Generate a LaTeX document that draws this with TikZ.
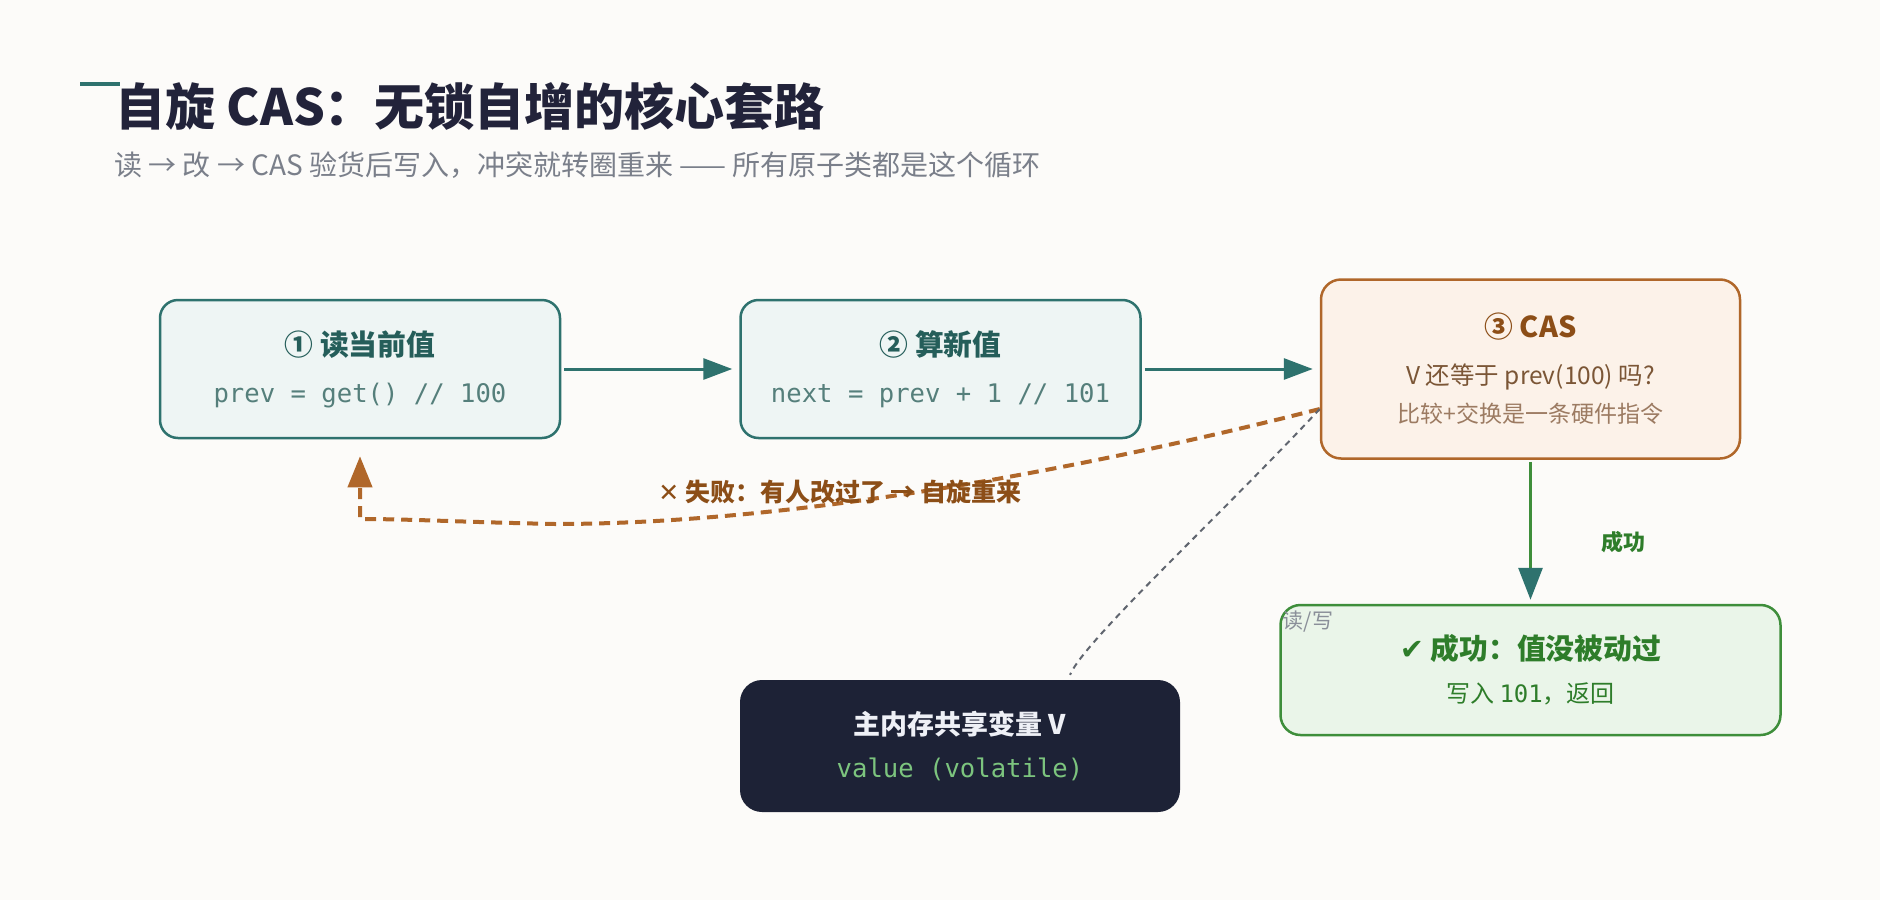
\documentclass[tikz,border=0pt]{standalone}
\usepackage{fontspec}
\usepackage{xcolor}
\usetikzlibrary{arrows.meta}
\usetikzlibrary{positioning}
\newfontfamily\cjk{Noto Sans CJK SC}
\newfontfamily\mono{DejaVu Sans Mono}
\newfontfamily\sym{DejaVu Sans}
\definecolor{PaperBg}{HTML}{FCFBF9}
\definecolor{Teal}{HTML}{2E726E}
\definecolor{TealPale}{HTML}{EEF5F4}
\definecolor{TealInk}{HTML}{255E5A}
\definecolor{TealCode}{HTML}{557F7B}
\definecolor{Rust}{HTML}{B0672A}
\definecolor{RustPale}{HTML}{FCF2E9}
\definecolor{RustInk}{HTML}{8C4E17}
\definecolor{RustText}{HTML}{7B5636}
\definecolor{RustSoft}{HTML}{9C7B62}
\definecolor{Leaf}{HTML}{3E8E3B}
\definecolor{LeafPale}{HTML}{EAF5E9}
\definecolor{LeafInk}{HTML}{2E7D2A}
\definecolor{Night}{HTML}{1D2236}
\definecolor{NightInk}{HTML}{EEF0F6}
\definecolor{NightCode}{HTML}{7CC47E}
\definecolor{HeadInk}{HTML}{22233A}
\definecolor{SubInk}{HTML}{7A7F8A}
\definecolor{BusGray}{HTML}{60656F}
\definecolor{NoteGray}{HTML}{8A8F99}
\tikzset{
  StepBox/.style={draw=Teal, fill=TealPale, line width=2.5pt, rounded corners=18pt,
    minimum width=400pt, minimum height=138pt, inner sep=0pt, align=center,
    text=TealInk, font=\cjk\fontsize{28.8}{47}\selectfont},
  CasBox/.style={draw=Rust, fill=RustPale, line width=2.5pt, rounded corners=20pt,
    minimum width=419pt, minimum height=179pt, inner sep=0pt, align=center,
    text=RustInk, font=\cjk\fontsize{28.8}{47}\selectfont},
  OkBox/.style={draw=Leaf, fill=LeafPale, line width=2.5pt, rounded corners=20pt,
    minimum width=500pt, minimum height=130pt, inner sep=0pt, align=center,
    text=LeafInk, font=\cjk\fontsize{28.8}{45}\selectfont},
  MemBox/.style={fill=Night, rounded corners=22pt,
    minimum width=440pt, minimum height=132pt, inner sep=0pt, align=center,
    text=NightInk, font=\cjk\fontsize{27}{45}\selectfont},
  Flow/.style={draw=Teal, line width=3pt, -{Triangle[length=29pt,width=21pt]}},
  FailFlow/.style={draw=Rust, line width=4pt, dash pattern=on 11pt off 7pt,
    -{Triangle[length=31pt,width=24pt]}},
  BusLine/.style={draw=BusGray, line width=2pt, dash pattern=on 6pt off 5pt},
}
\newcommand{\codeline}[1]{{\mono\fontsize{25.6}{47}\selectfont #1}}
\begin{document}
\begin{tikzpicture}[x=1pt, y=-1pt]
  \fill[PaperBg] (0,0) rectangle (1880,900);

  % heading
  \draw[Teal, line width=4pt] (80,84) -- (120,84);
  \node[anchor=west, inner sep=0pt, text=HeadInk,
    font=\cjk\bfseries\fontsize{50}{58}\selectfont] (Head) at (115,106)
    {自旋 CAS：无锁自增的核心套路};
  \node[anchor=west, inner sep=0pt, text=SubInk,
    font=\cjk\fontsize{28}{32}\selectfont] (Sub) at (114,165)
    {读 → 改 → CAS 验货后写入，冲突就转圈重来 —— 所有原子类都是这个循环};

  % the three steps
  \node[StepBox] (Read) at (360,369)
    {{\bfseries ① 读当前值}\\{\color{TealCode}\codeline{prev = get() // 100}}};
  \node[StepBox, right=178pt of Read] (Calc)
    {{\bfseries ② 算新值}\\{\color{TealCode}\codeline{next = prev + 1 // 101}}};
  \node[CasBox, right=178pt of Calc] (Cas)
    {{\bfseries ③ CAS}\\
     {\fontsize{24.5}{40}\selectfont\color{RustText}V 还等于 prev(100) 吗?}\\[-9pt]
     {\fontsize{23}{40}\selectfont\color{RustSoft}比较+交换是一条硬件指令}};
  \node[OkBox, below=144pt of Cas] (Ok)
    {{\bfseries{\sym ✔} 成功：值没被动过}\\[-2pt]
     {\fontsize{24}{40}\selectfont 写入 {\mono 101}，返回}};
  \node[MemBox] (Mem) at (960,746)
    {{\bfseries 主内存共享变量 V}\\[-2pt]{\color{NightCode}\codeline{value (volatile)}}};

  % connectors
  \draw[Flow, shorten <=3pt, shorten >=7pt] (Read) -- (Calc);
  \draw[Flow, shorten <=3pt, shorten >=7pt] (Calc) -- (Cas);
  \draw[Leaf, line width=3pt, shorten <=2pt, shorten >=4pt,
    -{Triangle[length=32pt,width=24pt,color=Teal]}] (Cas) -- (Ok);
  \node[text=LeafInk, font=\cjk\bfseries\fontsize{22}{26}\selectfont] (OkTag)
    at (1623,542) {成功};

  \draw[FailFlow, shorten >=17pt] ([yshift=-40pt]Cas.west)
    .. controls (1100,465) and (800,524) .. (555,524)
    .. controls (460,522) and (410,519) .. (360,519) -- (Read.south);
  \node[text=RustInk, font=\cjk\bfseries\fontsize{25}{29}\selectfont] (FailTag)
    at (840,492) {{\sym ✕} 失败：有人改过了 → 自旋重来};

  \draw[BusLine] ([yshift=-40pt]Cas.west)
    .. controls (1220,516) and (1085,640) .. ([xshift=110pt,yshift=5pt]Mem.north);
  \node[text=NoteGray, font=\cjk\fontsize{21}{25}\selectfont] (RwTag)
    at (1308,622) {读/写};
\end{tikzpicture}
\end{document}
